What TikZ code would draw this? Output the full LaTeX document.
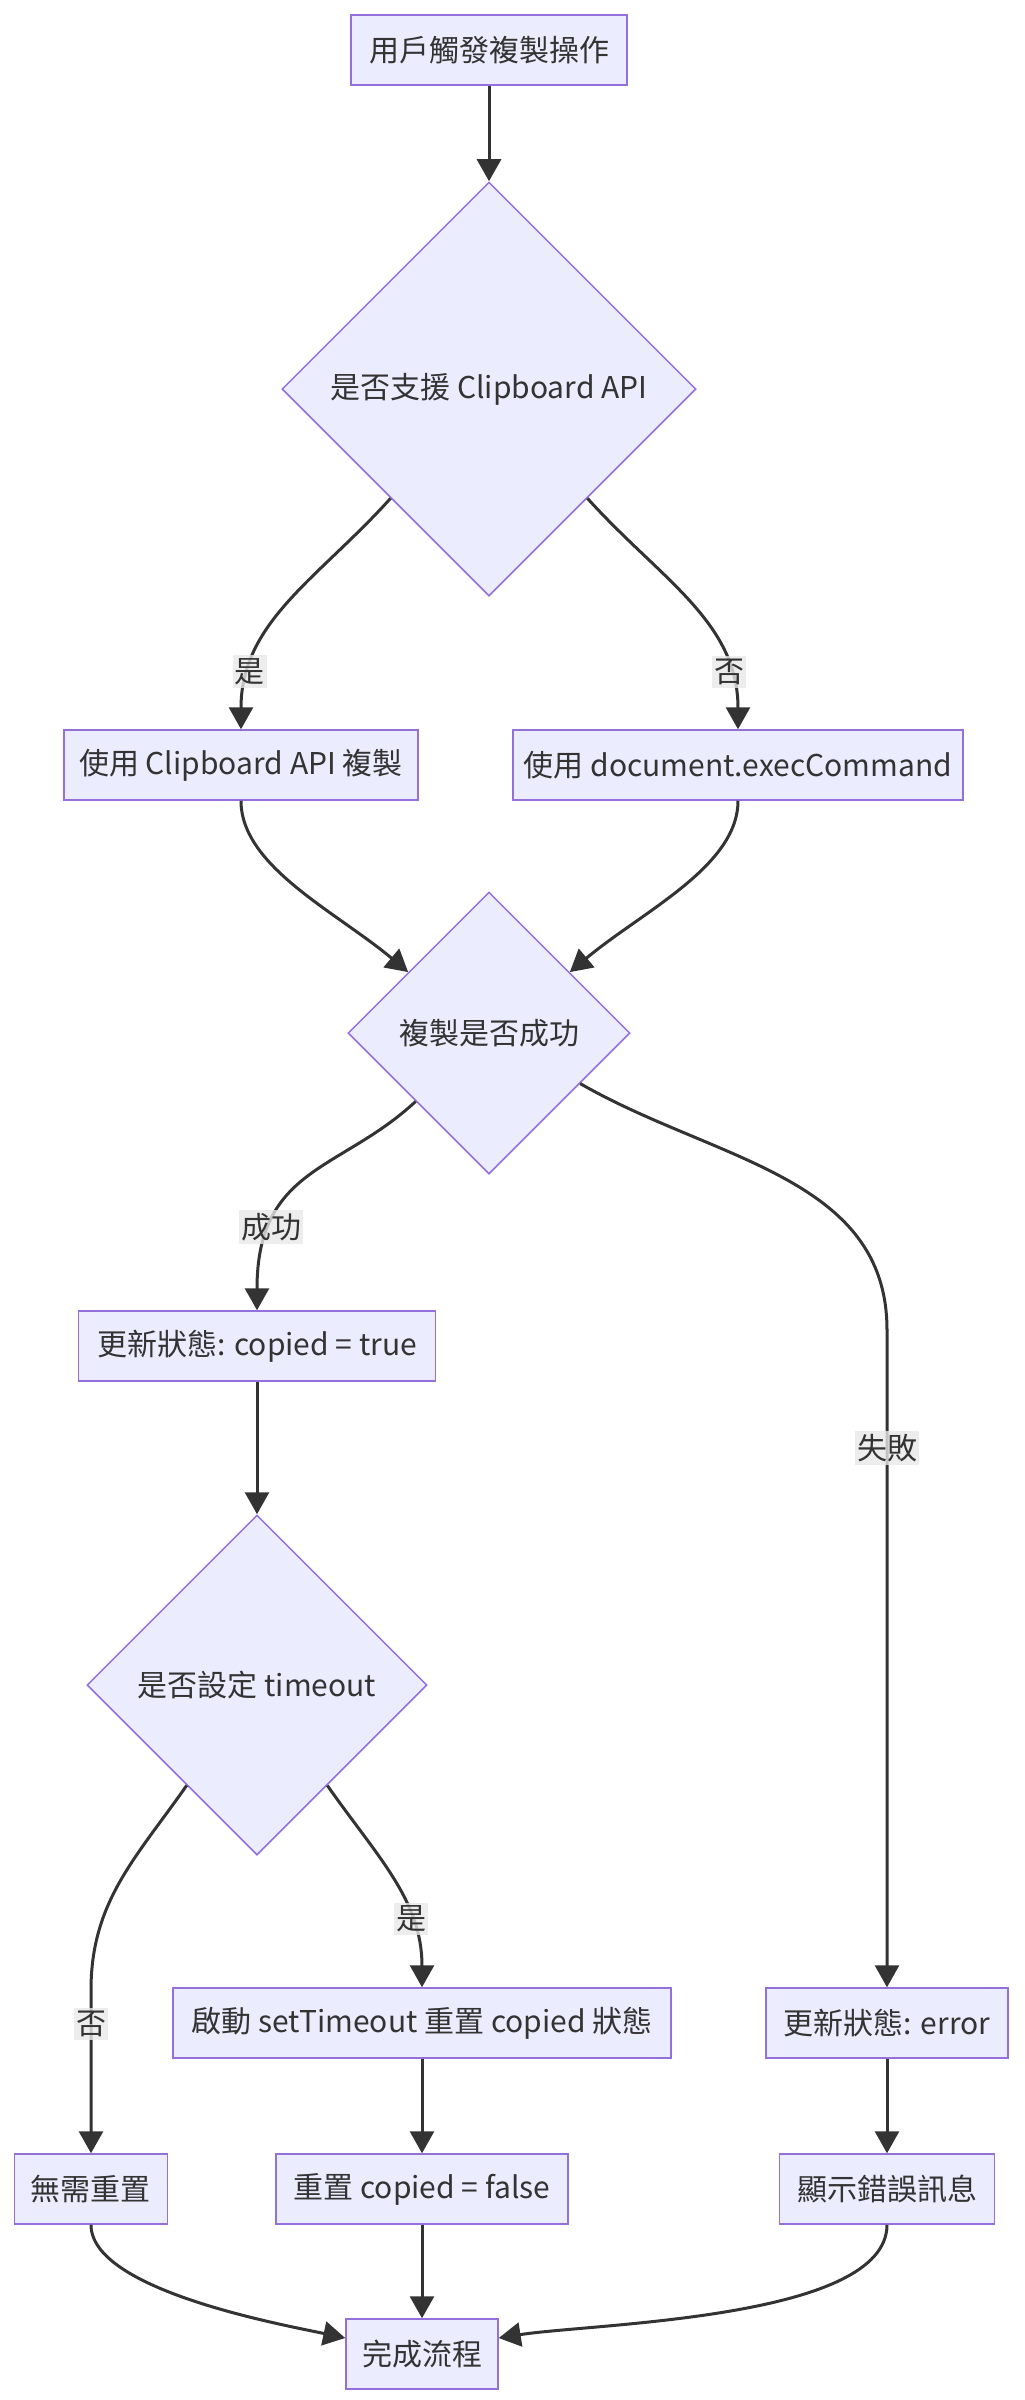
\documentclass[tikz,border=0pt]{standalone}
\usepackage{fontspec}
\setmainfont{Noto Sans CJK TC}
\usetikzlibrary{shapes.geometric,arrows.meta}
\definecolor{nodefill}{HTML}{ECECFF}
\definecolor{nodeline}{HTML}{9370DB}
\definecolor{edgecol}{HTML}{333333}
\definecolor{lblfill}{HTML}{E8E8E8}
\tikzset{
    procbox/.style={draw=nodeline,fill=nodefill,line width=0.75pt,minimum height=35pt,inner xsep=3pt,text=edgecol,font=\fontsize{15}{18}\selectfont},
    decide/.style={diamond,aspect=1,draw=nodeline,fill=nodefill,line width=0.75pt,inner sep=0pt,text=edgecol,font=\fontsize{15}{18}\selectfont},
    flow/.style={draw=edgecol,line width=1.5pt,-{Triangle[length=11pt,width=12pt]}},
    lbl/.style={fill=lblfill,fill opacity=0.8,text opacity=1,text=edgecol,inner xsep=1pt,inner ysep=1.5pt,font=\fontsize{15}{18}\selectfont},
}

\begin{document}
\begin{tikzpicture}[x=0.5pt,y=0.5pt]
        \useasboundingbox (0,0) rectangle (1024,-2400);
        \node[procbox,minimum width=138pt] (start) at (489,-50) {用戶觸發複製操作};
        \node[decide,minimum size=207pt] (support) at (489,-389) {是否支援 Clipboard API};
        \node[procbox,minimum width=177pt] (useapi) at (241,-765) {使用 Clipboard API 複製};
        \node[procbox,minimum width=225pt] (useexec) at (738,-765) {使用 document.execCommand};
        \node[decide,minimum size=141pt] (success) at (489,-1033) {複製是否成功};
        \node[procbox,minimum width=178.5pt] (settrue) at (257,-1346) {更新狀態: copied = true};
        \node[decide,minimum size=170pt] (hastimeout) at (257,-1685) {是否設定 timeout};
        \node[procbox,minimum width=249pt] (starttimer) at (422,-2023) {啟動 setTimeout 重置 copied 狀態};
        \node[procbox,minimum width=121pt] (seterror) at (887,-2023) {更新狀態: error};
        \node[procbox,minimum width=76.5pt] (noreset) at (91,-2189) {無需重置};
        \node[procbox,minimum width=146pt] (resetfalse) at (422,-2189) {重置 copied = false};
        \node[procbox,minimum width=107.5pt] (showerror) at (887,-2189) {顯示錯誤訊息};
        \node[procbox,minimum width=76pt] (done) at (422,-2354) {完成流程};
        \coordinate (failbend) at (887,-1330);
        \coordinate (nobend) at (91,-1990);

        \draw[flow] (start) -- (support);
        \draw[flow] (support.-132) to[out=-132,in=90] node[lbl,pos=0.8]{是} (useapi);
        \draw[flow] (support.-48) to[out=-48,in=90] node[lbl,pos=0.8]{否} (useexec);
        \draw[flow] (useapi) to[out=-90,in=140,out looseness=0.7] (success.143);
        \draw[flow] (useexec) to[out=-90,in=40,out looseness=0.7] (success.37);
        \draw[flow] (success.-137) to[out=-137,in=90,in looseness=1.4] node[lbl,pos=0.75]{成功} (settrue);
        \draw[flow] (success.-29) to[out=-30,in=90] (failbend) -- node[lbl,pos=0.18]{失敗} (seterror);
        \draw[flow] (settrue) -- (hastimeout);
        \draw[flow] (hastimeout.-125) to[out=-125,in=90] (nobend) -- node[lbl,pos=0.21]{否} (noreset);
        \draw[flow] (hastimeout.-55) to[out=-55,in=90] node[lbl,pos=0.7]{是} (starttimer);
        \draw[flow] (starttimer) -- (resetfalse);
        \draw[flow] (seterror) -- (showerror);
        \draw[flow] (resetfalse) -- (done);
        \draw[flow] (noreset) to[out=-90,in=168,looseness=0.6] ([yshift=8pt]done.west);
        \draw[flow] (showerror) to[out=-90,in=9,looseness=0.6] ([yshift=8pt]done.east);
\end{tikzpicture}
\end{document}
